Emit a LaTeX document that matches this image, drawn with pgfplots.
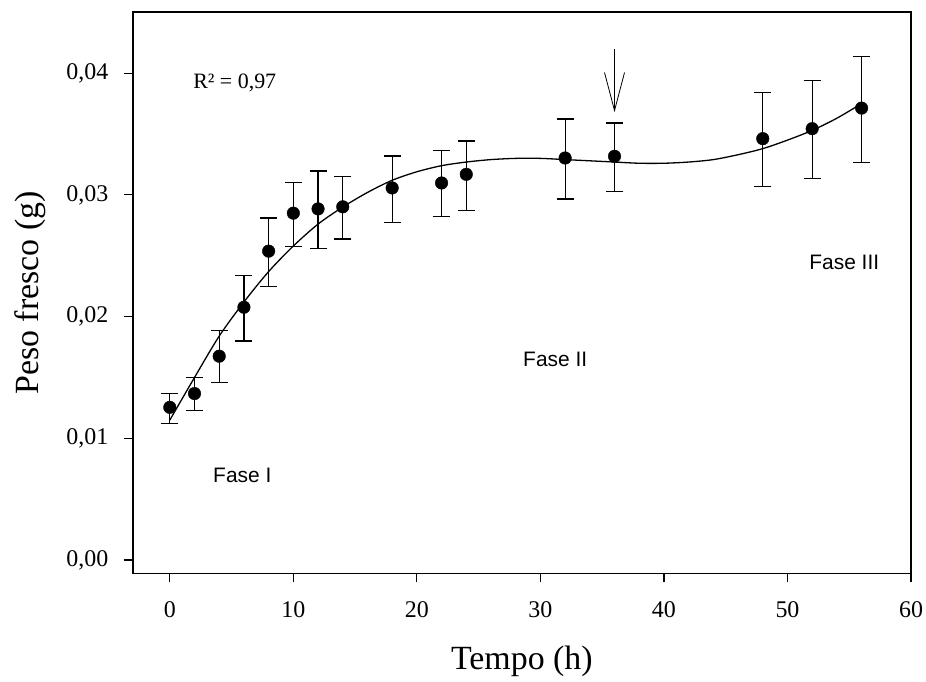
\documentclass[border=0pt]{standalone}
\usepackage{fontspec}
\setmainfont{Liberation Serif}
\newfontfamily\arial{Liberation Sans}
\usepackage{pgfplots}
\usepackage{pgfplotstable}
\pgfplotsset{compat=1.18}
\usetikzlibrary{arrows.meta}

\pgfplotstableread{
x y ep em
0 0.01255 0.00116 0.00133
2 0.01368 0.00129 0.00138
4 0.01675 0.00210 0.00218
6 0.02077 0.00260 0.00277
8 0.02538 0.00273 0.00288
10 0.02850 0.00255 0.00275
12 0.02885 0.00312 0.00325
14 0.02902 0.00246 0.00265
18 0.03057 0.00263 0.00287
22 0.03098 0.00265 0.00278
24 0.03169 0.00274 0.00295
32 0.03303 0.00320 0.00336
36 0.03317 0.00273 0.00287
48 0.03462 0.00380 0.00396
52 0.03544 0.00396 0.00410
56 0.03713 0.00421 0.00445
}\datatab

\pgfplotstableread{
x y
0 0.0115
2 0.0150
4 0.0184
6 0.0212
8 0.0237
10 0.0258
12 0.0276
14 0.0290
16 0.0302
18 0.0312
20 0.0319
22 0.0324
24 0.0327
26 0.0329
28 0.0330
30 0.0330
32 0.0329
34 0.0328
36 0.0327
38 0.0326
40 0.0326
42 0.0327
44 0.0329
46 0.0333
48 0.0338
50 0.0345
52 0.0353
54 0.0363
56 0.0375
}\fittab

\begin{document}
\begin{tikzpicture}
\begin{axis}[
 width=778bp, height=561bp, scale only axis,
 xmin=-3, xmax=60, ymin=-0.0011, ymax=0.045,
 axis line style={line width=1.6bp},
 xtick={0,10,20,30,40,50,60},
 ytick={0,0.01,0.02,0.03,0.04},
 yticklabels={{0,00},{0,01},{0,02},{0,03},{0,04}},
 scaled y ticks=false,
 xtick pos=bottom, ytick pos=left, tick align=outside,
 major tick length=9bp,
 tick style={line width=1.2bp, black},
 ticklabel style={font=\fontsize{24}{28}\selectfont},
 /pgf/number format/assume math mode=true,
 xticklabel style={yshift=-16bp},
 yticklabel style={xshift=-12bp},
 xlabel={Tempo (h)}, ylabel={Peso fresco (g)},
 label style={font=\fontsize{34}{38}\selectfont, inner sep=0pt},
 xlabel style={at={(axis description cs:0.5,-0.157)}, anchor=center},
 ylabel style={at={(axis description cs:-0.132,0.5)}, anchor=center},
 clip=false,
]
\addplot[smooth, line width=1.3bp, black] table[x=x, y=y] {\fittab};
\addplot[only marks, mark=*, mark size=6.3bp, black,
  error bars/.cd, y dir=both, y explicit,
  error bar style={line width=1.2bp, black},
  error mark options={rotate=90, black, line width=1.2bp, mark size=8.5bp}]
  table[x=x, y=y, y error plus=ep, y error minus=em] {\datatab};
\draw[line width=0.8bp, -{Straight Barb[length=38bp, width=20bp, line width=0.8bp]}] (axis cs:36,0.04196) -- (axis cs:36,0.0368);
\node[font=\fontsize{22}{25}\selectfont] at (axis cs:5.26,0.03924) {R² = 0,97};
\node[font=\arial\fontsize{21}{24}\selectfont] at (axis cs:5.87,0.00693) {Fase I};
\node[font=\arial\fontsize{21}{24}\selectfont] at (axis cs:31.2,0.0165) {Fase II};
\node[font=\arial\fontsize{21}{24}\selectfont] at (axis cs:54.6,0.02448) {Fase III};
\end{axis}
\pgfresetboundingbox
\path (current axis.south west) ++(-132.7bp,-108bp) coordinate (bbA);
\path (current axis.north east) ++(15bp,12.3bp) coordinate (bbB);
\useasboundingbox (bbA) rectangle (bbB);
\end{tikzpicture}
\end{document}
